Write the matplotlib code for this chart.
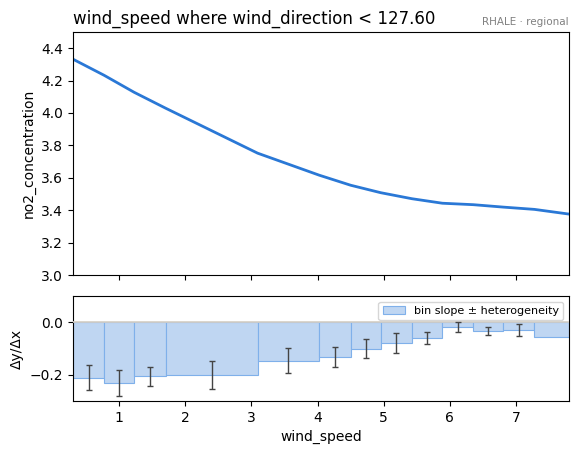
import matplotlib
matplotlib.use("Agg")
import matplotlib.pyplot as plt
import numpy as np

# bin edges along wind_speed
bin_edges = [0.304, 0.773, 1.227, 1.702, 3.094, 4.026, 4.501, 4.955,
             5.424, 5.887, 6.355, 6.809, 7.278, 7.80]
# bin slopes (dy/dx) and heterogeneity
bin_slopes = [-0.211, -0.232, -0.206, -0.200, -0.146, -0.131, -0.101,
              -0.079, -0.060, -0.019, -0.034, -0.030, -0.056]
bin_hetero = [0.049, 0.049, 0.037, 0.053, 0.049, 0.038, 0.036,
              0.039, 0.023, 0.019, 0.016, 0.023, 0.0]
# effect curve at the bin edges
curve_y = [4.332, 4.233, 4.128, 4.030, 3.752, 3.616, 3.554, 3.508,
           3.471, 3.443, 3.434, 3.419, 3.405, 3.376]

LINE_COLOR = "#2a78d6"
BAR_FILL = "#bfd6f2"
BAR_EDGE = "#7fb0ea"

fig = plt.figure(figsize=(5.78, 4.55), dpi=100)
ax_top = fig.add_axes([0.1263, 0.3956, 0.8581, 0.5341])
ax_bot = fig.add_axes([0.1263, 0.1187, 0.8581, 0.2308], sharex=ax_top)

# top: accumulated effect
ax_top.plot(bin_edges, curve_y, color=LINE_COLOR, linewidth=2)
ax_top.set_ylim(3.0, 4.5)
ax_top.set_xlim(bin_edges[0], bin_edges[-1])
ax_top.set_ylabel("no2_concentration")
ax_top.tick_params(labelbottom=False)
ax_top.set_title("wind_speed where wind_direction < 127.60", loc="left", fontsize=12)
ax_top.text(1.0, 1.02, "RHALE · regional", transform=ax_top.transAxes,
            ha="right", va="bottom", fontsize=7.5, color="gray")

# bottom: bin slopes
edges = np.array(bin_edges)
widths = np.diff(edges)
centers = edges[:-1] + widths / 2
ax_bot.bar(edges[:-1], bin_slopes, width=widths, align="edge",
           color=BAR_FILL, edgecolor=BAR_EDGE, linewidth=0.8,
           label="bin slope ± heterogeneity")
ax_bot.axhline(0, color="#d6cfc4", linewidth=1.2, zorder=3)
mask = np.array(bin_hetero) > 0
ax_bot.errorbar(centers[mask], np.array(bin_slopes)[mask],
                yerr=np.array(bin_hetero)[mask], fmt="none",
                ecolor="#444444", elinewidth=1, capsize=2.5, zorder=4)
ax_bot.set_ylim(-0.3, 0.1)
ax_bot.set_yticks([-0.2, 0.0])
ax_bot.set_ylabel("Δy/Δx")
ax_bot.set_xlabel("wind_speed")
ax_bot.legend(loc="upper right", fontsize=8)

fig.savefig("out.png", dpi=100)
